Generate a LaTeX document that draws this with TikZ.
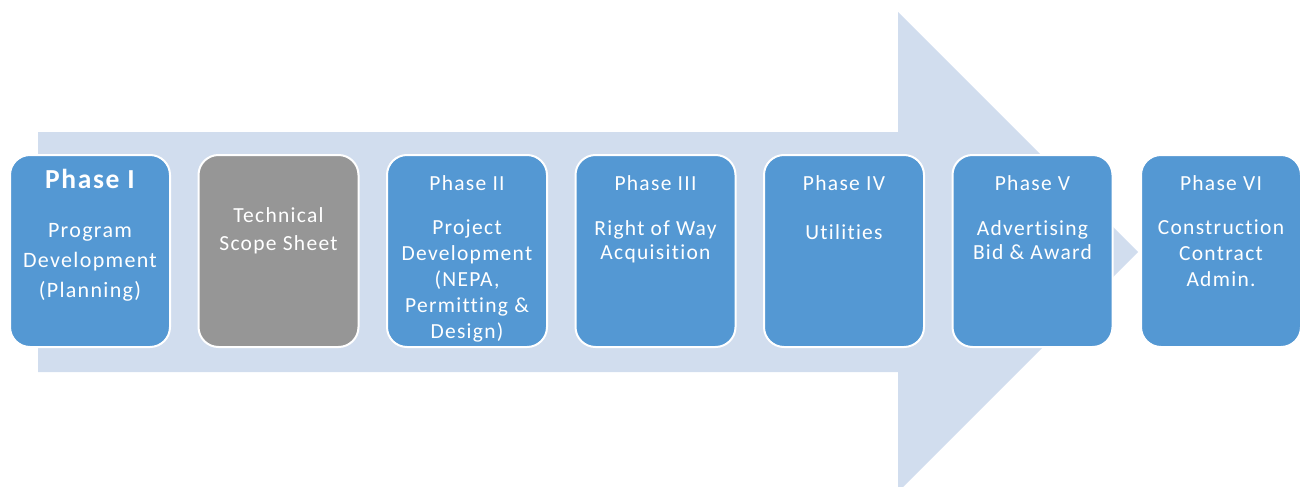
\documentclass[tikz,border=0pt]{standalone}
\usepackage{fontspec}
\setmainfont{Carlito}[LetterSpace=6,Ligatures=NoCommon]
\usepackage{tikz}
\usetikzlibrary{positioning}
\definecolor{phaseblue}{RGB}{84,152,211}
\definecolor{scopegray}{RGB}{150,150,150}
\definecolor{arrowfill}{RGB}{209,221,238}
\tikzset{phasebox/.style={draw=white,line width=2pt,fill=phaseblue,rounded corners=20pt,minimum width=160pt,minimum height=192pt},
         scopebox/.style={phasebox,fill=scopegray},
         phasetitle/.style={anchor=north,inner sep=0pt,text=white,font=\fontsize{21.5}{26}\selectfont},
         phasetext/.style={anchor=north,inner sep=0pt,text=white,align=center,font=\fontsize{21.5}{26}\selectfont}}

\begin{document}
\begin{tikzpicture}[x=1pt,y=-1pt]
                \useasboundingbox (0,0) rectangle (1304,487);
                \def\w{188.5}
                % big arrow behind the phases
                \fill[arrowfill] (38,132) -- (898,132) -- (898,12) -- (1138,252)
                    -- (898,492) -- (898,372) -- (38,372) -- cycle;
                % phase boxes
                \node[phasebox] (p1) at (90,251) {};
                \node[scopebox] (p2) at (90+\w,251) {};
                \node[phasebox] (p3) at (90+2*\w,251) {};
                \node[phasebox] (p4) at (90+3*\w,251) {};
                \node[phasebox] (p5) at (90+4*\w,251) {};
                \node[phasebox] (p6) at (90+5*\w,251) {};
                \node[phasebox] (p7) at (90+6*\w,251) {};
                % titles
                \node[phasetitle,font=\fontsize{27.5}{30}\bfseries] (t1) at ([yshift=-15pt]p1.north) {Phase I};
                \node[phasetitle] (t3) at ([yshift=-21pt]p3.north) {Phase II};
                \node[phasetitle] (t4) at ([yshift=-21pt]p4.north) {Phase III};
                \node[phasetitle] (t5) at ([yshift=-21pt]p5.north) {Phase IV};
                \node[phasetitle] (t6) at ([yshift=-21pt]p6.north) {Phase V};
                \node[phasetitle] (t7) at ([yshift=-21pt]p7.north) {Phase VI};
                % texts
                \node[phasetext,font=\fontsize{22}{30}\selectfont] (b1) at ([yshift=-69pt]p1.north) {Program\\Development\\(Planning)};
                \node[phasetext,font=\fontsize{21.5}{28}\selectfont] (b2) at ([yshift=-53pt]p2.north) {Technical\\Scope Sheet};
                \node[phasetext] (b3) at ([yshift=-66pt]p3.north) {Project\\Development\\(NEPA,\\Permitting \&\\Design)};
                \node[phasetext,font=\fontsize{21.5}{24}\selectfont] (b4) at ([yshift=-66pt]p4.north) {Right of Way\\Acquisition};
                \node[phasetext] (b5) at ([yshift=-70pt]p5.north) {Utilities};
                \node[phasetext,font=\fontsize{21.5}{24}\selectfont] (b6) at ([yshift=-66pt]p6.north) {Advertising\\Bid \& Award};
                \node[phasetext] (b7) at ([yshift=-66pt]p7.north) {Construction\\Contract\\Admin.};
            \end{tikzpicture}
\end{document}
